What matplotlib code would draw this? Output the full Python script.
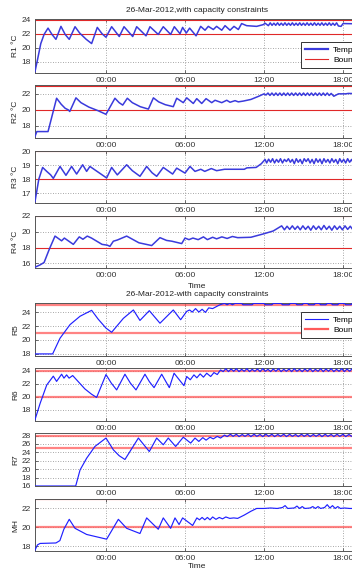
import numpy as np
import matplotlib
matplotlib.use('Agg')
import matplotlib.pyplot as plt
from matplotlib.lines import Line2D

plt.rcParams['font.family'] = ['Liberation Sans', 'DejaVu Sans']
plt.rcParams['font.size'] = 6

# ── Data (hours relative to 26-Mar-2012 00:00, temperature) ────────────────────
XLIM = (-5.39, 19.44)
X_TICKS = [0, 6, 12, 18]
X_TICK_LABELS = ['00:00', '06:00', '12:00', '18:00']

R1 = [(-5.39, 16.6), (-5.2, 18.3), (-4.95, 20.6), (-4.7, 21.9), (-4.4, 22.8), (-4.1, 21.9), (-3.8, 21.2),
      (-3.42, 23.05), (-3.1, 21.9), (-2.79, 21.2), (-2.35, 23.0), (-2.0, 22.1), (-1.5, 21.2), (-1.09, 20.6),
      (-0.66, 22.9), (-0.3, 22.0),
      (0.0, 21.5), (0.43, 23.0), (1.01, 21.6), (1.37, 23.0), (2.03, 21.6), (2.33, 23.0),
      (3.04, 21.7), (3.34, 23.0), (3.97, 21.9), (4.35, 23.0), (4.91, 21.9), (5.19, 23.0),
      (5.62, 22.0), (5.82, 22.9), (6.1, 22.1), (6.35, 22.8), (6.84, 21.7), (7.19, 23.05),
      (7.52, 22.5), (7.77, 23.05), (8.15, 22.6), (8.4, 23.05), (8.79, 22.5), (9.04, 23.15),
      (9.42, 22.5), (9.72, 23.05), (10.05, 22.6), (10.3, 23.45), (10.68, 23.15), (11.44, 23.05),
      (11.95, 23.3), (12.08, 23.5), (12.33, 23.15), (12.47, 23.55), (12.61, 23.2), (12.75, 23.5),
      (12.89, 23.2), (13.03, 23.55), (13.17, 23.2), (13.31, 23.5), (13.45, 23.2), (13.59, 23.55),
      (13.73, 23.2), (13.87, 23.5), (14.01, 23.2), (14.15, 23.55), (14.29, 23.2), (14.43, 23.5),
      (14.57, 23.2), (14.71, 23.55), (14.85, 23.2), (14.99, 23.5), (15.13, 23.2), (15.27, 23.55),
      (15.41, 23.2), (15.55, 23.5), (15.69, 23.2), (15.83, 23.55), (15.97, 23.2), (16.11, 23.5),
      (16.25, 23.2), (16.39, 23.55), (16.53, 23.2), (16.67, 23.5), (16.81, 23.2), (16.95, 23.55),
      (17.09, 23.2), (17.23, 23.5), (17.37, 23.2), (17.51, 23.55), (17.65, 23.1), (17.85, 23.05),
      (18.0, 23.45), (19.5, 23.4)]

R2 = [(-5.39, 16.7), (-5.25, 17.3), (-4.4, 17.3), (-3.75, 21.45), (-3.4, 20.7), (-3.1, 20.2), (-2.86, 20.0),
      (-2.75, 19.8), (-2.28, 21.5), (-1.9, 20.9), (-1.3, 20.35), (-0.6, 19.9), (0.0, 19.45), (0.68, 21.45),
      (1.0, 20.9), (1.27, 20.6), (1.62, 21.45), (2.0, 20.9), (2.6, 20.4), (3.22, 20.1), (3.6, 21.5),
      (4.0, 21.0), (4.5, 20.65), (5.11, 20.4), (5.37, 21.45), (5.87, 20.9), (6.13, 21.5), (6.63, 20.8),
      (6.89, 21.4),
      (7.27, 20.8), (7.6, 21.4), (8.03, 20.9), (8.28, 21.2), (8.79, 20.9), (9.17, 21.2),
      (9.42, 20.95), (9.8, 21.15), (10.05, 21.0), (10.43, 21.1), (11.0, 21.3), (11.6, 21.7),
      (12.0, 22.0), (12.15, 21.85), (12.3, 22.1), (12.45, 21.8), (12.6, 22.1), (12.75, 21.8),
      (12.9, 22.1), (13.05, 21.8), (13.2, 22.1), (13.35, 21.8), (13.5, 22.1), (13.65, 21.8),
      (13.8, 22.1), (13.95, 21.8), (14.1, 22.1), (14.25, 21.8), (14.4, 22.1), (14.55, 21.8),
      (14.7, 22.1), (14.85, 21.8), (15.0, 22.1), (15.15, 21.8), (15.3, 22.1), (15.45, 21.8),
      (15.6, 22.1), (15.75, 21.8), (15.9, 22.1), (16.05, 21.8), (16.2, 22.1), (16.35, 21.8),
      (16.5, 22.1), (16.65, 21.8), (16.8, 22.1), (16.95, 21.8), (17.1, 22.05), (17.3, 21.7),
      (17.65, 22.0), (18.2, 22.0), (18.4, 22.05), (19.5, 22.0)]

R3 = [(-5.39, 16.4), (-5.1, 18.0), (-4.81, 18.83), (-4.5, 18.55), (-4.2, 18.3), (-4.0, 18.05),
      (-3.49, 18.9), (-3.04, 18.27), (-2.61, 18.9), (-2.23, 18.36), (-1.77, 19.02), (-1.47, 18.55),
      (-1.22, 18.9), (-0.6, 18.5), (0.05, 18.08), (0.43, 18.83), (0.86, 18.3), (1.57, 19.02),
      (2.0, 18.6), (2.58, 18.2), (3.09, 18.9), (3.5, 18.45), (3.85, 18.2), (4.35, 18.83),
      (5.06, 18.36), (5.37, 18.78), (6.0, 18.43), (6.38, 18.9), (6.76, 18.55), (7.2, 18.7),
      (7.5, 18.55), (8.0, 18.75), (8.4, 18.6), (9.0, 18.7), (9.5, 18.7), (10.5, 18.7),
      (10.7, 18.8), (11.4, 18.83), (11.8, 19.1), (12.08, 19.4), (12.2, 19.15), (12.35, 19.42),
      (12.5, 19.2), (12.65, 19.45), (12.8, 19.15), (12.95, 19.4), (13.1, 19.2), (13.25, 19.45),
      (13.4, 19.15), (13.55, 19.4), (13.7, 19.25), (13.85, 19.45), (14.0, 19.2), (14.15, 19.4),
      (14.3, 19.1), (14.45, 19.45), (14.6, 19.2), (14.75, 19.4), (14.9, 19.1), (15.05, 19.45),
      (15.2, 19.25), (15.35, 19.45), (15.5, 19.15), (15.65, 19.4), (15.8, 19.1), (15.95, 19.45),
      (16.1, 19.2), (16.25, 19.42), (16.4, 19.1), (16.55, 19.45), (16.7, 19.2), (16.85, 19.4),
      (17.0, 19.15), (17.15, 19.45), (17.3, 19.2), (17.45, 19.4), (17.6, 19.1), (17.75, 19.45),
      (17.9, 19.2), (18.05, 19.4), (18.2, 19.15), (18.35, 19.45), (18.5, 19.2), (18.65, 19.4),
      (18.8, 19.1), (18.95, 19.4), (19.1, 19.2), (19.25, 19.45), (19.4, 19.2), (19.55, 19.4)]

R4 = [(-5.39, 15.5), (-5.0, 15.8), (-4.7, 16.1), (-4.3, 17.8), (-3.87, 19.45), (-3.37, 18.85),
      (-3.16, 19.2), (-2.48, 18.4), (-2.03, 19.35), (-1.75, 19.05), (-1.42, 19.45), (-1.1, 19.2),
      (-0.3, 18.4), (0.1, 18.3), (0.3, 18.15), (0.56, 18.8), (0.86, 18.95), (1.57, 19.45),
      (2.5, 18.6), (3.47, 18.25), (4.1, 19.25), (4.6, 18.9), (5.0, 18.8), (5.75, 18.5),
      (6.0, 19.2), (6.3, 19.0), (6.6, 19.2), (7.0, 19.0), (7.4, 19.35), (7.7, 19.0),
      (8.1, 19.3), (8.4, 19.1), (8.8, 19.35), (9.2, 19.15), (9.6, 19.4), (10.0, 19.25),
      (11.0, 19.3), (12.0, 19.75), (12.7, 20.1), (13.34, 20.75), (13.55, 20.25), (13.75, 20.7),
      (13.95, 20.3), (14.15, 20.75), (14.35, 20.3), (14.55, 20.7), (14.75, 20.25), (14.95, 20.75),
      (15.15, 20.3), (15.35, 20.7), (15.55, 20.2), (15.75, 20.75), (15.95, 20.3), (16.15, 20.7),
      (16.35, 20.25), (16.55, 20.8), (16.75, 20.3), (16.95, 20.7), (17.15, 20.2), (17.35, 20.75),
      (17.55, 20.3), (17.75, 20.7), (17.95, 20.25), (18.15, 20.75), (18.35, 20.3), (18.55, 20.7),
      (18.75, 20.25), (18.95, 20.75), (19.15, 20.3), (19.35, 20.7), (19.55, 20.3)]

R5 = [(-5.39, 18.0), (-4.05, 18.0), (-3.49, 20.25), (-2.73, 22.2), (-1.97, 23.4), (-1.09, 24.25),
      (-0.6, 23.0), (0.0, 21.7), (0.43, 21.1), (1.32, 23.1), (2.08, 24.3), (2.58, 22.8), (3.29, 24.2),
      (4.1, 22.4),
      (5.11, 24.3), (5.67, 22.9), (6.13, 24.1), (6.35, 24.3), (6.55, 24.0), (6.8, 24.5),
      (7.05, 24.0), (7.3, 24.4), (7.55, 23.95), (7.8, 24.6), (8.1, 24.5), (8.5, 24.9),
      (8.66, 25.05), (9.0, 25.25), (9.2, 25.05), (9.4, 25.25), (9.6, 25.05), (9.8, 25.25),
      (10.3, 25.25), (10.4, 25.05), (11.1, 25.05), (11.2, 25.25), (12.0, 25.25), (12.1, 25.05),
      (12.6, 25.05), (12.7, 25.25), (13.3, 25.25), (13.4, 25.05), (13.9, 25.05), (14.0, 25.25),
      (14.4, 25.25), (14.5, 25.05), (14.9, 25.05), (15.0, 25.25), (15.3, 25.25), (15.4, 25.05),
      (15.8, 25.05), (15.9, 25.25), (16.2, 25.25), (16.3, 25.05), (16.7, 25.05), (16.8, 25.25),
      (17.1, 25.25), (17.2, 25.05), (17.6, 25.05), (17.7, 25.25), (18.1, 25.25), (18.2, 25.05),
      (18.6, 25.05), (18.7, 25.25), (19.0, 25.25), (19.1, 25.05), (19.5, 25.05)]

R6 = [(-5.39, 16.5), (-5.0, 19.0), (-4.5, 21.8), (-4.0, 23.15), (-3.75, 22.35), (-3.37, 23.45),
      (-3.19, 22.85), (-2.99, 23.35), (-2.8, 22.85), (-2.53, 23.25), (-1.6, 21.2), (-1.1, 20.4),
      (-0.71, 19.9),
      (0.0, 23.4), (0.4, 22.1), (0.81, 21.05), (1.44, 23.45), (1.85, 22.1), (2.28, 21.05), (2.96, 23.45),
      (3.3, 22.3), (3.65, 21.4),
      (4.23, 23.45), (4.81, 21.4), (5.17, 23.6), (5.92, 21.7), (6.13, 23.1), (6.4, 22.6),
      (6.68, 23.35), (6.9, 22.9), (7.15, 23.5), (7.4, 23.0), (7.65, 23.6), (7.95, 23.1),
      (8.2, 23.7), (8.45, 23.4), (8.7, 24.1), (8.9, 23.85), (9.1, 24.3), (9.3, 23.85),
      (9.5, 24.25), (9.7, 23.9), (9.9, 24.3), (10.1, 23.85), (10.3, 24.2), (10.5, 23.9),
      (10.7, 24.3), (10.9, 23.85), (11.1, 24.2), (11.3, 23.9), (11.5, 24.25), (11.7, 23.85),
      (11.9, 24.3), (12.1, 23.9), (12.3, 24.2), (12.5, 23.85), (12.7, 24.25), (12.9, 23.9),
      (13.1, 24.3), (13.3, 23.85), (13.5, 24.2), (13.7, 23.9), (13.9, 24.25), (14.1, 23.85),
      (14.3, 24.3), (14.5, 23.9), (14.7, 24.2), (14.9, 23.85), (15.1, 24.25), (15.3, 23.9),
      (15.5, 24.3), (15.7, 23.85), (15.9, 24.2), (16.1, 23.9), (16.3, 24.3), (16.5, 23.85),
      (16.7, 24.25), (16.9, 23.9), (17.1, 24.3), (17.3, 23.85), (17.5, 24.2), (17.7, 23.9),
      (17.9, 24.3), (18.1, 23.85), (18.3, 24.25), (18.5, 23.9), (18.7, 24.3), (18.9, 23.85),
      (19.1, 24.2), (19.3, 23.9), (19.5, 24.25)]

R7 = [(-5.39, 16.0), (-2.3, 16.0), (-1.97, 19.8), (-1.47, 22.6), (-0.84, 25.4), (0.0, 27.4),
      (0.56, 24.6), (1.0, 23.2), (1.44, 22.3), (2.46, 27.4), (3.29, 24.2), (3.85, 27.4), (4.35, 25.8),
      (4.73, 27.4), (5.29, 25.4), (5.87, 27.6), (6.43, 26.2), (6.76, 27.4), (7.05, 26.6),
      (7.35, 27.5), (7.6, 26.9), (7.9, 27.6), (8.15, 27.2), (8.45, 27.8), (8.7, 27.4),
      (9.0, 28.1), (9.2, 27.75), (9.45, 28.3), (9.65, 27.8), (9.9, 28.3), (10.1, 27.75),
      (10.35, 28.25), (10.55, 27.8), (10.8, 28.3), (11.0, 27.75), (11.25, 28.3), (11.45, 27.8),
      (11.7, 28.25), (11.9, 27.75), (12.15, 28.3), (12.35, 27.8), (12.6, 28.3), (12.8, 27.75),
      (13.05, 28.25), (13.25, 27.8), (13.5, 28.3), (13.7, 27.75), (13.95, 28.3), (14.15, 27.8),
      (14.4, 28.25), (14.6, 27.75), (14.85, 28.3), (15.05, 27.8), (15.3, 28.3), (15.5, 27.75),
      (15.75, 28.25), (15.95, 27.8), (16.2, 28.3), (16.4, 27.75), (16.65, 28.3), (16.85, 27.8),
      (17.1, 28.25), (17.3, 27.75), (17.55, 28.3), (17.75, 27.8), (18.0, 28.3), (18.2, 27.75),
      (18.45, 28.25), (18.65, 27.8), (18.9, 28.3), (19.1, 27.75), (19.35, 28.3), (19.55, 27.8)]

MH = [(-5.39, 17.6), (-5.2, 18.15), (-5.0, 18.3), (-3.8, 18.35), (-3.5, 18.6), (-3.2, 19.8),
      (-2.79, 20.85), (-2.35, 19.9), (-1.47, 19.25), (0.05, 18.75), (0.94, 20.85), (1.57, 19.9),
      (2.58, 19.35), (3.09, 21.0), (3.97, 19.8), (4.35, 21.0), (4.91, 19.9), (5.24, 21.0),
      (5.55, 20.3), (5.82, 21.0), (6.58, 20.2), (6.9, 21.0), (7.1, 20.8), (7.3, 21.05),
      (7.5, 20.8), (7.7, 21.05), (7.9, 20.8), (8.1, 21.1), (8.35, 20.85), (8.6, 21.05),
      (8.85, 20.9), (9.1, 21.1), (9.4, 20.95), (9.7, 21.0), (10.0, 20.95), (10.5, 21.3),
      (11.0, 21.7), (11.44, 22.0), (12.0, 22.0), (12.5, 22.05), (13.0, 22.0), (13.4, 22.1),
      (13.6, 22.3), (13.8, 22.0), (14.3, 22.05), (14.5, 22.25), (14.7, 22.0), (14.9, 22.2),
      (15.1, 22.0), (15.5, 22.05), (15.7, 22.2), (15.9, 22.0), (16.1, 22.2), (16.3, 22.0),
      (16.6, 22.1), (16.8, 22.4), (17.0, 22.05), (17.2, 22.3), (17.4, 22.0), (17.6, 22.2),
      (17.8, 22.0), (18.1, 22.05), (18.5, 22.0), (19.5, 22.0)]

LABELS = ['R1 °C', 'R2 °C', 'R3 °C', 'R4 °C', 'R5', 'R6', 'R7', 'MH']
SERIES = [R1, R2, R3, R4, R5, R6, R7, MH]
BOUNDS = [(22, 24), (20, 23), (18, 20), (18, 22), (21, 25), (20, 24), (25, 28), (20, 23)]
YLIMS = [(16.4, 24.1), (16.5, 23.1), (16.3, 20.0), (15.4, 22.0),
         (17.7, 25.3), (16.3, 24.4), (16.0, 28.6), (17.5, 23.0)]
YTICKS = [[18, 20, 22, 24], [18, 20, 22], [17, 18, 19, 20], [16, 18, 20, 22],
          [18, 20, 22, 24], [18, 20, 22, 24], [16, 18, 20, 22, 24, 26, 28], [18, 20, 22]]

TITLE1 = '26-Mar-2012,with capacity constraints'
TITLE2 = '26-Mar-2012-with capacity constraints'

# ── Layout (pixel boxes: top, bottom) ─────────────────────────────────────────
W, H = 352, 571
BOXES = [(19, 73), (85, 138), (151, 203), (216, 268),
         (303, 356), (368, 421), (433, 486), (499, 551)]
AX_LEFT, AX_RIGHT = 35, 362

fig = plt.figure(figsize=(W / 100, H / 100), dpi=100)
fig.patch.set_facecolor('white')

axes = []
for i, (top, bot) in enumerate(BOXES):
    ax = fig.add_axes([AX_LEFT / W, 1 - bot / H, (AX_RIGHT - AX_LEFT) / W, (bot - top) / H])
    second = i >= 4
    t, v = np.array(SERIES[i]).T
    for b in BOUNDS[i]:
        if second:
            ax.axhline(b, color='#ff5a5a', lw=1.6, alpha=0.75, zorder=2)
        else:
            ax.axhline(b, color='#e02828', lw=0.8, zorder=2)
    ax.plot(t, v, color='#2020ff' if second else '#3a3adc',
            lw=0.85 if second else 1.1, zorder=3)

    ax.set_xlim(XLIM)
    ax.set_ylim(YLIMS[i])
    ax.set_xticks(X_TICKS)
    ax.set_xticklabels(X_TICK_LABELS)
    ax.set_yticks(YTICKS[i])
    ax.grid(True, ls=(0, (1, 2)), color='#8a8a8a', lw=0.6)
    ax.tick_params(direction='in', length=2, width=0.5, top=True, right=True,
                   pad=3, colors='#333333', labelsize=6)
    for s in ax.spines.values():
        s.set_color('#555555')
        s.set_linewidth(0.7)
    ax.set_ylabel(LABELS[i], color='#222222')
    ax.yaxis.set_label_coords(-16 / (AX_RIGHT - AX_LEFT), 0.5)
    axes.append(ax)

# legends (sit partly outside the cropped figure, like the reference)
for idx, y_top, blue_lw, red_lw, red_col in [(0, 42, 1.6, 0.8, '#e02828'),
                                             (4, 312, 0.8, 1.6, '#ff5a5a')]:
    handles = [Line2D([], [], color='#2020ff' if idx else '#3a3adc', lw=blue_lw),
               Line2D([], [], color=red_col, lw=red_lw)]
    leg = axes[idx].legend(handles, ['Temperature', 'Bounds'], loc='upper left',
                           bbox_to_anchor=(301 / W, 1 - y_top / H),
                           bbox_transform=fig.transFigure, borderaxespad=0,
                           fancybox=False, framealpha=1, edgecolor='#333333',
                           handlelength=2.8, handletextpad=0.6, borderpad=0.45,
                           labelspacing=0.35, fontsize=6)
    leg.get_frame().set_linewidth(0.7)

fig.text(197 / W, 1 - 11 / H, TITLE1, ha='center', va='center', color='#222222')
fig.text(197 / W, 1 - 286 / H, 'Time', ha='center', va='center', color='#222222')
fig.text(197 / W, 1 - 295 / H, TITLE2, ha='center', va='center', color='#222222')
fig.text(197 / W, 1 - 566 / H, 'Time', ha='center', va='center', color='#222222')

fig.savefig('out.png', dpi=100)
